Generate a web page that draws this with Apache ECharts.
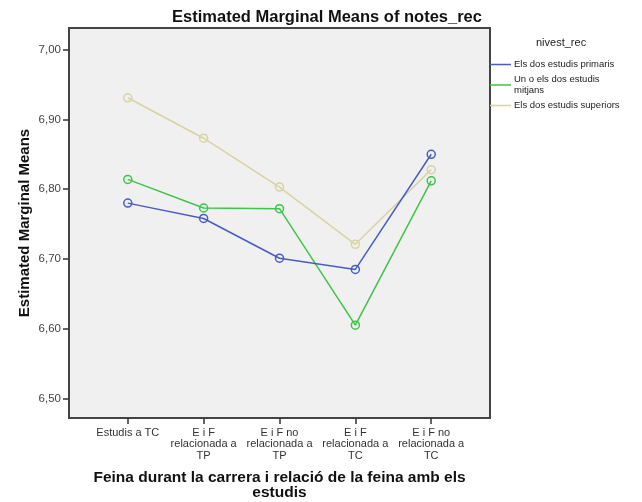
<!DOCTYPE html>
<html><head><meta charset="utf-8">
<script src="https://cdn.jsdelivr.net/npm/echarts@6/dist/echarts.min.js"></script>
<style>html,body{margin:0;padding:0;background:#fff}#c{width:642px;height:502px}</style>
</head><body><div id="c"></div>
<script>
var categories = ["Estudis a TC", "E i F\nrelacionada a\nTP", "E i F no\nrelacionada a\nTP", "E i F\nrelacionada a\nTC", "E i F no\nrelacionada a\nTC"];
var seriesNames = ["Els dos estudis primaris", "Un o els dos estudis\nmitjans", "Els dos estudis superiors"];
var primaris = [6.780, 6.758, 6.701, 6.685, 6.850];
var mitjans = [6.814, 6.773, 6.772, 6.605, 6.812];
var superiors = [6.931, 6.873, 6.803, 6.721, 6.828];
var yTicks = [6.5, 6.6, 6.7, 6.8, 6.9, 7.0];
var colors = ["#4a5cc4", "#3ec44a", "#d8d3a4"];

var font = "Liberation Sans, Arial, sans-serif";
function pairs(arr){ return arr.map(function(v,i){ return [i, v]; }); }
var allData = [primaris, mitjans, superiors];
var series = allData.map(function(d, k){
  return {
    name: seriesNames[k], type: 'line', data: pairs(d),
    symbol: 'circle', symbolSize: 8,
    lineStyle: {color: colors[k], width: 1.5},
    itemStyle: {color: 'rgba(0,0,0,0)', borderColor: colors[k], borderWidth: 1.5},
    emphasis: {disabled: true}, z: 3 + (2 - k)
  };
});

var chart = echarts.init(document.getElementById('c'), null, {renderer: 'canvas'});
chart.setOption({
  animation: false,
  backgroundColor: '#ffffff',
  title: {
    text: 'Estimated Marginal Means of notes_rec', left: 322, top: 4, textAlign: 'center',
    textStyle: {fontFamily: font, fontSize: 16.5, fontWeight: 'bold', color: '#111'}
  },
  grid: {
    left: 69, top: 28, width: 421, height: 390, show: true, containLabel: false, outerBoundsMode: 'none',
    backgroundColor: '#f0f0f0', borderColor: '#444', borderWidth: 2
  },
  legend: {
    orient: 'vertical', left: 490, top: 59, icon: 'rect', itemWidth: 21, itemHeight: 1.5,
    itemGap: 4, padding: 0,
    data: seriesNames.map(function(n, k){ return {name: n, itemStyle: {color: colors[k], borderWidth: 0}}; }),
    textStyle: {fontFamily: font, fontSize: 9.5, color: '#222', lineHeight: 11, padding: [0,0,0,-2]}
  },
  graphic: [
    {type: 'text', left: 536, top: 37, style: {text: 'nivest_rec', font: '11px ' + font, fill: '#222'}}
  ],
  xAxis: {
    type: 'value', min: -0.775, max: 4.775,
    name: 'Feina durant la carrera i relació de la feina amb els\nestudis',
    nameLocation: 'middle', nameGap: 52, nameMoveOverlap: false,
    nameTextStyle: {fontFamily: font, fontSize: 15.5, fontWeight: 'bold', color: '#111', lineHeight: 15},
    axisLine: {show: false, onZero: false},
    splitLine: {show: false},
    axisTick: {show: true, customValues: [0,1,2,3,4], length: 6, lineStyle: {color: '#333', width: 1.5}},
    axisLabel: {
      customValues: [0,1,2,3,4],
      formatter: function(v){ return categories[Math.round(v)]; },
      fontFamily: font, fontSize: 11, color: '#333', lineHeight: 11.5, margin: 9
    }
  },
  yAxis: {
    type: 'value', min: 6.472, max: 7.031,
    name: 'Estimated Marginal Means', nameLocation: 'middle', nameGap: 37, nameMoveOverlap: false,
    nameTextStyle: {fontFamily: font, fontSize: 15, fontWeight: 'bold', color: '#111'},
    axisLine: {show: false, onZero: false},
    splitLine: {show: false},
    axisTick: {show: true, customValues: yTicks, length: 6, lineStyle: {color: '#333', width: 1.5}},
    axisLabel: {
      customValues: yTicks,
      formatter: function(v){ return v.toFixed(2).replace('.', ','); },
      fontFamily: font, fontSize: 11.5, color: '#444', margin: 8
    }
  },
  series: series
});
</script></body></html>
